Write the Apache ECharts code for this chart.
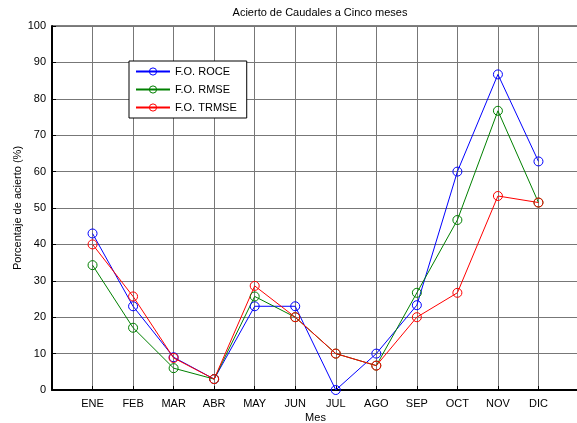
<!DOCTYPE html>
<html>
<head>
<meta charset="utf-8">
<script src="https://cdn.jsdelivr.net/npm/echarts@6/dist/echarts.min.js"></script>
<style>html,body{margin:0;padding:0;background:#fff}#c{width:577px;height:423px}</style>
</head>
<body>
<div id="c"></div>
<script>
const months = ['ENE','FEB','MAR','ABR','MAY','JUN','JUL','AGO','SEP','OCT','NOV','DIC'];
const roce  = [43, 23, 9, 3, 23, 23, 0, 10, 23.3, 60, 86.7, 62.8];
const rmse  = [34.3, 17.1, 6, 3, 25.7, 20, 10, 6.7, 26.7, 46.7, 76.7, 51.5];
const trmse = [40, 25.7, 8.8, 3, 28.6, 20, 10, 6.7, 20, 26.7, 53.3, 51.5];
const yTicks = [0,10,20,30,40,50,60,70,80,90,100];

const toPts = arr => arr.map((v, i) => [i + 1, v]);
const font = 'Liberation Sans, Arial, sans-serif';
const chart = echarts.init(document.getElementById('c'));
function series(name, color, data) {
  return {
    name, type: 'line', data: toPts(data),
    symbol: 'circle', symbolSize: 9,
    lineStyle: { color, width: 1 },
    itemStyle: { color: 'rgba(255,255,255,0)', borderColor: color, borderWidth: 1 },
    emphasis: { disabled: true },
    animation: false
  };
}
chart.setOption({
  animation: false,
  title: {
    text: 'Acierto de Caudales a Cinco meses', left: 315, top: 2, textAlign: 'center',
    textStyle: { fontFamily: font, fontSize: 11, fontWeight: 'normal', color: '#000' }
  },
  grid: { left: 52, top: 26, width: 527, height: 364, outerBoundsMode: 'none', containLabel: false,
    show: true, borderColor: '#000', borderWidth: 1, backgroundColor: '#fff' },
  legend: {
    orient: 'vertical', left: 129, top: 61,
    backgroundColor: '#fff', borderColor: '#000', borderWidth: 1,
    padding: [5, 10, 5, 6], itemGap: 7, itemWidth: 34, itemHeight: 9,
    itemStyle: { borderWidth: 1 },
    textStyle: { fontFamily: font, fontSize: 11, color: '#000' },
    data: ['F.O. ROCE', 'F.O. RMSE', 'F.O. TRMSE']
  },
  xAxis: {
    type: 'value', min: 0, max: 13, interval: 1,
    name: 'Mes', nameLocation: 'middle', nameGap: 22, nameMoveOverlap: false,
    nameTextStyle: { fontFamily: font, fontSize: 11, color: '#000' },
    axisLine: { show: true, lineStyle: { color: '#000', width: 2 } },
    axisTick: { show: true, inside: true, length: 4, lineStyle: { color: '#000' } },
    axisLabel: {
      fontFamily: font, fontSize: 11, color: '#000', margin: 8, showMinLabel: true, showMaxLabel: true,
      formatter: v => (v >= 1 && v <= 12 ? months[v - 1] : '')
    },
    splitLine: { show: true, interval: 0, lineStyle: { color: '#777', width: 1 } }
  },
  yAxis: {
    type: 'value', min: 0, max: 100, interval: 10,
    name: 'Porcentaje de acierto (%)', nameLocation: 'middle', nameGap: 29, nameMoveOverlap: false,
    nameTextStyle: { fontFamily: font, fontSize: 11, color: '#000' },
    axisLine: { show: true, lineStyle: { color: '#000', width: 2 } },
    axisTick: { show: true, inside: true, length: 4, lineStyle: { color: '#000' } },
    axisLabel: { fontFamily: font, fontSize: 11, color: '#000', margin: 6,
      formatter: v => (yTicks.includes(v) ? String(v) : '') },
    splitLine: { show: true, lineStyle: { color: '#777', width: 1 } }
  },
  series: [
    series('F.O. ROCE', '#0000ff', roce),
    series('F.O. RMSE', '#008000', rmse),
    series('F.O. TRMSE', '#ff0000', trmse)
  ]
});
</script>
</body>
</html>
